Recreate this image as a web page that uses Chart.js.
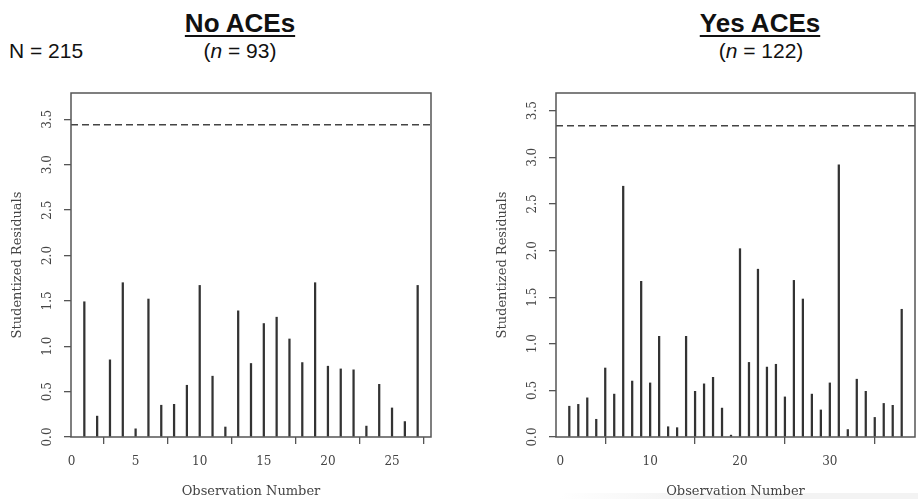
<!DOCTYPE html>
<html>
<head>
<meta charset="utf-8">
<script src="https://cdn.jsdelivr.net/npm/chart.js@4.4.1/dist/chart.umd.min.js"></script>
<style>
  html, body { margin: 0; padding: 0; background: #ffffff; }
  body { width: 918px; height: 499px; position: relative; overflow: hidden; font-family: "Liberation Sans", Arial, sans-serif; color: #111; }
  .box { position: absolute; }
  .ttl { position: absolute; width: 400px; text-align: center; font-weight: bold; font-size: 26px; line-height: 26px; text-decoration: underline; text-decoration-thickness: 2px; text-underline-offset: 3px; }
  .sub { position: absolute; width: 400px; text-align: center; font-size: 21px; line-height: 21px; }
  .nall { position: absolute; font-size: 21px; line-height: 21px; }
  .shade { position: absolute; left: 560px; top: 493px; width: 358px; height: 6px; background: linear-gradient(to right, rgba(240,240,240,0), #f3f3f3 35%); }
</style>
</head>
<body>
<div class="shade"></div>
<div class="nall" style="left:9px; top:40px;">N = 215</div>
<div class="ttl" style="left:40px; top:10px;">No ACEs</div>
<div class="sub" style="left:40px; top:40px;">(<i>n</i> = 93)</div>
<div class="ttl" style="left:560px; top:10px;">Yes ACEs</div>
<div class="sub" style="left:561px; top:40px;">(<i>n</i> = 122)</div>

<div class="box" style="left:0px; top:0px; width:460px; height:499px;"><canvas id="c1"></canvas></div>
<div class="box" style="left:485px; top:0px; width:433px; height:499px;"><canvas id="c2"></canvas></div>

<script>
// ---- data ----
const noAcesObs = [1,2,3,4,5,6,7,8,9,10,11,12,13,14,15,16,17,18,19,20,21,22,23,24,25,26,27];
const noAcesResid = [1.49,0.23,0.85,1.70,0.09,1.52,0.35,0.36,0.57,1.67,0.67,0.11,1.39,0.81,1.25,1.32,1.08,0.82,1.70,0.78,0.75,0.74,0.12,0.58,0.32,0.17,1.67];
const noAcesCutoff = 3.44;

const yesAcesObs = [1,2,3,4,5,6,7,8,9,10,11,12,13,14,15,16,17,18,19,20,21,22,23,24,25,26,27,28,29,30,31,32,33,34,35,36,37,38];
const yesAcesResid = [0.33,0.35,0.42,0.19,0.74,0.46,2.69,0.60,1.67,0.58,1.08,0.11,0.10,1.08,0.49,0.57,0.64,0.31,0.02,2.02,0.80,1.80,0.75,0.78,0.43,1.68,1.48,0.46,0.29,0.58,2.92,0.08,0.62,0.49,0.21,0.36,0.34,1.37];
const yesAcesCutoff = 3.34;

const noAcesXTicks = [0,5,10,15,20,25];
const yesAcesXTicks = [0,10,20,30];
const yTicks = [0.0,0.5,1.0,1.5,2.0,2.5,3.0,3.5];

const xTitle = "Observation Number";
const yTitle = "Studentized Residuals";

// ---- drawing ----
const SERIF = '"DejaVu Serif", serif';
const frameColor = '#555555';

const framePlugin = {
  id: 'frame',
  afterDatasetsDraw(chart) {
    const a = chart.chartArea, ctx = chart.ctx;
    ctx.save();
    ctx.strokeStyle = frameColor;
    ctx.lineWidth = 1.5;
    ctx.strokeRect(a.left, a.top, a.right - a.left, a.bottom - a.top);
    ctx.restore();
  },
  afterDraw(chart) {
    const s = chart.scales.y, ctx = chart.ctx;
    ctx.save();
    ctx.fillStyle = '#444444';
    ctx.font = '12px ' + SERIF;
    ctx.textAlign = 'center';
    ctx.textBaseline = 'middle';
    s.ticks.forEach(t => {
      const py = s.getPixelForValue(t.value);
      ctx.save();
      ctx.translate(s.right - 23, py);
      ctx.rotate(-Math.PI / 2);
      ctx.fillText(Number(t.value).toFixed(1), 0, 0);
      ctx.restore();
    });
    ctx.restore();
  }
};

function makeChart(id, obs, resid, cutoff, xMin, xMax, yMax, xTicks, padRight) {
  const pts = obs.map((o, i) => ({ x: o, y: resid[i] }));
  return new Chart(document.getElementById(id), {
    type: 'bar',
    data: {
      datasets: [
        {
          type: 'bar',
          data: pts,
          backgroundColor: '#333333',
          borderWidth: 0,
          barThickness: 1.6,
          order: 2
        },
        {
          type: 'line',
          data: [{ x: xMin, y: cutoff }, { x: xMax, y: cutoff }],
          borderColor: '#444444',
          borderWidth: 1.5,
          borderDash: [7, 4],
          pointRadius: 0,
          fill: false,
          order: 1
        }
      ]
    },
    options: {
      responsive: true,
      maintainAspectRatio: false,
      animation: false,
      events: [],
      layout: { padding: { left: 0, right: padRight, top: 93, bottom: 0 } },
      plugins: { legend: { display: false }, tooltip: { enabled: false }, title: { display: false } },
      scales: {
        x: {
          type: 'linear',
          min: xMin,
          max: xMax,
          offset: false,
          afterBuildTicks: (s) => { s.ticks = xTicks.map(v => ({ value: v })); },
          afterFit: (s) => { s.height = 62; },
          grid: { display: true, drawOnChartArea: false, drawTicks: true, tickLength: 7, color: frameColor, lineWidth: 1.3 },
          border: { display: false },
          ticks: { color: '#444444', font: { family: SERIF, size: 12 }, padding: 11, maxRotation: 0, autoSkip: false },
          title: { display: true, text: xTitle, color: '#444444', font: { family: SERIF, size: 13 }, padding: { top: 0, bottom: 0 } }
        },
        y: {
          type: 'linear',
          min: 0,
          max: yMax,
          afterBuildTicks: (s) => { s.ticks = yTicks.map(v => ({ value: v })); },
          afterFit: (s) => { s.width = 71; },
          grid: { display: true, drawOnChartArea: false, drawTicks: true, tickLength: 7, color: frameColor, lineWidth: 1.3 },
          border: { display: false },
          ticks: { display: false },
          title: { display: true, text: yTitle, color: '#444444', font: { family: SERIF, size: 13 }, padding: { top: 10, bottom: 0 } }
        }
      }
    },
    plugins: [framePlugin]
  });
}

makeChart('c1', noAcesObs, noAcesResid, noAcesCutoff, -0.04, 28.04, 3.79, noAcesXTicks, 29);
makeChart('c2', yesAcesObs, yesAcesResid, yesAcesCutoff, -0.48, 39.48, 3.69, yesAcesXTicks, 3);
</script>
</body>
</html>
